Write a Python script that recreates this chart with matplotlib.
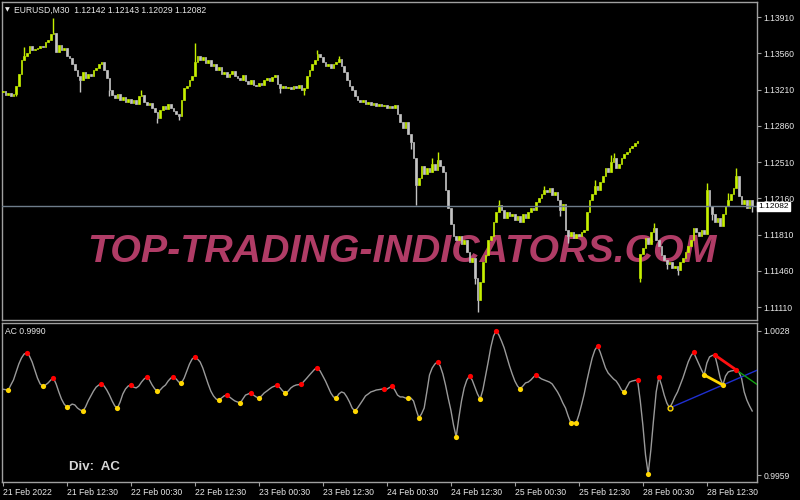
import numpy as np
import matplotlib
matplotlib.use("Agg")
import matplotlib.pyplot as plt
from matplotlib.transforms import blended_transform_factory

# ---------------- data ----------------
symbol_header = "EURUSD,M30  1.12142 1.12143 1.12029 1.12082"
indicator_name = "AC 0.9990"
div_label = "Div:  AC"
watermark = "TOP-TRADING-INDICATORS.COM"

# M30 closes (bar 0 = 21 Feb 00:30 ... bar 281 = 28 Feb 21:00)
closes = [
    1.13195, 1.13157, 1.13176, 1.13147, 1.13166, 1.13244, 1.13359, 1.13495, 1.13533, 1.13562,
    1.13630, 1.13591, 1.13601, 1.13611, 1.13630, 1.13620, 1.13669, 1.13688, 1.13745, 1.13755,
    1.13572, 1.13640, 1.13591, 1.13611, 1.13533, 1.13514, 1.13456, 1.13398, 1.13340, 1.13302,
    1.13379, 1.13321, 1.13359, 1.13340, 1.13398, 1.13418, 1.13456, 1.13476, 1.13398, 1.13321,
    1.13205, 1.13157, 1.13128, 1.13166, 1.13109, 1.13138, 1.13090, 1.13118, 1.13080, 1.13109,
    1.13070, 1.13147, 1.13157, 1.13090, 1.13061, 1.13080, 1.13032, 1.12993, 1.12935, 1.13012,
    1.13051, 1.13022, 1.13070, 1.13032, 1.13003, 1.12974, 1.12955, 1.13109, 1.13224, 1.13244,
    1.13302, 1.13340, 1.13476, 1.13533, 1.13495, 1.13524, 1.13466, 1.13495, 1.13437, 1.13456,
    1.13398, 1.13427, 1.13359, 1.13379, 1.13330, 1.13359, 1.13388, 1.13340, 1.13321, 1.13302,
    1.13350, 1.13292, 1.13263, 1.13302, 1.13253, 1.13244, 1.13273, 1.13253, 1.13302, 1.13321,
    1.13292, 1.13330, 1.13350, 1.13263, 1.13224, 1.13244, 1.13224, 1.13234, 1.13215, 1.13244,
    1.13224, 1.13253, 1.13205, 1.13224, 1.13340, 1.13398, 1.13456, 1.13495, 1.13552, 1.13524,
    1.13476, 1.13437, 1.13456, 1.13418, 1.13456, 1.13476, 1.13504, 1.13437, 1.13379, 1.13302,
    1.13244, 1.13205, 1.13147, 1.13109, 1.13090, 1.13109, 1.13070, 1.13090, 1.13061, 1.13080,
    1.13051, 1.13070, 1.13051, 1.13061, 1.13032, 1.13051, 1.13032, 1.13061, 1.12974, 1.12897,
    1.12839, 1.12897, 1.12780, 1.12703, 1.12549, 1.12288, 1.12356, 1.12472, 1.12394, 1.12452,
    1.12413, 1.12490, 1.12433, 1.12529, 1.12472, 1.12413, 1.12240, 1.12066, 1.11911, 1.11796,
    1.11757, 1.11796, 1.11718, 1.11757, 1.11641, 1.11545, 1.11583, 1.11390, 1.11178, 1.11352,
    1.11545, 1.11612, 1.11757, 1.11796, 1.11931, 1.12027, 1.12095, 1.12047, 1.11969, 1.12027,
    1.11989, 1.12008, 1.11950, 1.11989, 1.11931, 1.12008, 1.11969, 1.12027, 1.12066, 1.12047,
    1.12124, 1.12162, 1.12201, 1.12240, 1.12220, 1.12259, 1.12191, 1.12220, 1.12143, 1.12047,
    1.12104, 1.11854, 1.11796, 1.11834, 1.11776, 1.11815, 1.11796, 1.11834, 1.11854, 1.12027,
    1.12143, 1.12201, 1.12278, 1.12240, 1.12317, 1.12375, 1.12452, 1.12413, 1.12510, 1.12549,
    1.12452, 1.12490, 1.12549, 1.12587, 1.12607, 1.12645, 1.12664, 1.12693, 1.12713, 1.11621,
    1.11680, 1.11776, 1.11718, 1.11834, 1.11873, 1.11757, 1.11699, 1.11612, 1.11564, 1.11525,
    1.11545, 1.11487, 1.11506, 1.11467, 1.11545, 1.11583, 1.11641, 1.11699, 1.11757, 1.11873,
    1.11834, 1.11796, 1.11854, 1.11815, 1.12240, 1.12085, 1.12008, 1.11931, 1.11969, 1.11892,
    1.12008, 1.12085, 1.12143, 1.12201, 1.12259, 1.12375, 1.12182, 1.12104, 1.12143, 1.12066,
    1.12142, 1.12082,
]
# opens that differ from the previous close (first bar, Monday gap)
session_opens = {0: 1.13186, 239: 1.11390}
# visible wicks
wick_highs = {19: 1.13900, 72: 1.13659, 118: 1.13591, 126: 1.13533, 163: 1.12607,
              203: 1.12278, 222: 1.12336, 244: 1.11921, 264: 1.12307, 275: 1.12452,
              281: 1.12143, 8: 1.13620, 52: 1.13205, 161: 1.12549, 186: 1.12143,
              228: 1.12580, 229: 1.12600, 272: 1.12210}
wick_lows = {29: 1.13186, 58: 1.12887, 66: 1.12916, 113: 1.13157, 155: 1.12095,
             178: 1.11062, 212: 1.11728, 239: 1.11352, 253: 1.11418, 281: 1.12029,
             5: 1.13150, 40: 1.13150, 104: 1.13180, 153: 1.12640, 177: 1.11330,
             209: 1.11990, 249: 1.11480, 266: 1.11950}
last_price = 1.12082

price_ticks = [1.13910, 1.13560, 1.13210, 1.12860, 1.12510, 1.12160, 1.11810, 1.11460, 1.11110]

# AC indicator values per bar
ac_values = [
    1.00000, 0.99998, 0.99994, 1.00020, 1.00044, 1.00082, 1.00120, 1.00149, 1.00168, 1.00173,
    1.00158, 1.00130, 1.00092, 1.00053, 1.00025, 1.00015, 1.00020, 1.00030, 1.00044, 1.00053,
    1.00025, 0.99987, 0.99953, 0.99929, 0.99915, 0.99920, 0.99929, 0.99925, 0.99910, 0.99901,
    0.99896, 0.99915, 0.99944, 0.99968, 0.99991, 1.00010, 1.00020, 1.00025, 1.00015, 0.99996,
    0.99972, 0.99944, 0.99920, 0.99910, 0.99939, 0.99977, 1.00001, 1.00015, 1.00020, 1.00010,
    1.00006, 1.00015, 1.00034, 1.00049, 1.00058, 1.00044, 1.00020, 1.00001, 0.99991, 0.99996,
    1.00010, 1.00020, 1.00039, 1.00053, 1.00058, 1.00049, 1.00034, 1.00030, 1.00053, 1.00087,
    1.00120, 1.00144, 1.00154, 1.00144, 1.00130, 1.00101, 1.00063, 1.00025, 0.99991, 0.99968,
    0.99953, 0.99948, 0.99958, 0.99968, 0.99972, 0.99963, 0.99953, 0.99944, 0.99939, 0.99934,
    0.99953, 0.99972, 0.99977, 0.99984, 0.99972, 0.99963, 0.99958, 0.99968, 0.99982, 0.99991,
    1.00001, 1.00010, 1.00015, 1.00020, 1.00006, 0.99991, 0.99982, 0.99991, 1.00006, 1.00015,
    1.00020, 1.00022, 1.00025, 1.00039, 1.00053, 1.00068, 1.00082, 1.00096, 1.00101, 1.00087,
    1.00063, 1.00039, 1.00010, 0.99982, 0.99963, 0.99958, 0.99977, 0.99987, 0.99982, 0.99963,
    0.99939, 0.99910, 0.99896, 0.99910, 0.99929, 0.99948, 0.99968, 0.99977, 0.99987, 0.99991,
    0.99996, 0.99998, 1.00000, 1.00003, 1.00000, 1.00008, 1.00015, 0.99996, 0.99972, 0.99963,
    0.99963, 0.99958, 0.99956, 0.99958, 0.99944, 0.99901, 0.99863, 0.99882, 0.99910, 0.99987,
    1.00068, 1.00101, 1.00120, 1.00130, 1.00111, 1.00073, 1.00020, 0.99958, 0.99901, 0.99829,
    0.99772, 0.99863, 0.99944, 1.00006, 1.00044, 1.00063, 1.00044, 1.00010, 0.99977, 0.99953,
    0.99996, 1.00063, 1.00130, 1.00201, 1.00254, 1.00278, 1.00259, 1.00230, 1.00197, 1.00154,
    1.00111, 1.00073, 1.00039, 1.00015, 1.00001, 1.00015, 1.00030, 1.00034, 1.00044, 1.00058,
    1.00068, 1.00058, 1.00049, 1.00044, 1.00039, 1.00034, 1.00025, 1.00006, 0.99987, 0.99963,
    0.99934, 0.99910, 0.99872, 0.99839, 0.99842, 0.99839, 0.99877, 0.99925, 0.99977, 1.00039,
    1.00096, 1.00149, 1.00187, 1.00206, 1.00177, 1.00139, 1.00101, 1.00077, 1.00063, 1.00049,
    1.00039, 1.00020, 0.99996, 0.99987, 1.00010, 1.00034, 1.00039, 1.00042, 1.00044, 0.99948,
    0.99829, 0.99686, 0.99596, 0.99710, 0.99853, 0.99987, 1.00058, 1.00020, 0.99972, 0.99934,
    0.99910, 0.99934, 0.99963, 0.99987, 1.00020, 1.00053, 1.00092, 1.00130, 1.00158, 1.00177,
    1.00149, 1.00120, 1.00092, 1.00068, 1.00125, 1.00154, 1.00161, 1.00163, 1.00111, 1.00053,
    1.00020, 1.00063, 1.00082, 1.00087, 1.00089, 1.00092, 1.00082, 1.00053, 0.99987, 0.99948,
    0.99920, 0.99896,
]
peak_idx = [9, 19, 37, 48, 54, 64, 72, 84, 93, 103, 112, 118, 143, 146, 163, 175, 185,
            200, 223, 238, 246, 259, 267, 275]
trough_idx = [2, 15, 24, 30, 43, 58, 67, 81, 89, 96, 106, 125, 132, 152, 156, 170, 179,
              194, 213, 215, 233, 242, 263, 270]
open_trough_idx = [250]
# divergence lines (pairs of swing indices)
div_bull_troughs = (250, 270)     # blue, extended to the right
div_small_troughs = (263, 270)    # yellow
div_bear_peaks = (267, 275)       # red, green extension to the right
ac_ticks = [1.0028, 0.9959]

time_tick_idx = [0, 24, 48, 72, 96, 120, 144, 168, 192, 216, 240, 264]
time_tick_labels = ["21 Feb 2022", "21 Feb 12:30", "22 Feb 00:30", "22 Feb 12:30",
                    "23 Feb 00:30", "23 Feb 12:30", "24 Feb 00:30", "24 Feb 12:30",
                    "25 Feb 00:30", "25 Feb 12:30", "28 Feb 00:30", "28 Feb 12:30"]

# ---------------- style ----------------
plt.rcParams['font.family'] = ['Liberation Sans', 'DejaVu Sans']
BG = '#000000'
FRAME = '#a0a0a0'
TXT = '#e8e8e8'
BULL = '#c6f000'
BEAR = '#c4c4c4'
DOJI = '#00a000'
FS = 6.2

fig = plt.figure(figsize=(8, 5), dpi=100, facecolor=BG)
W, H = 800.0, 500.0
ax1 = fig.add_axes([2 / W, 1 - 320 / H, 755 / W, 318 / H], facecolor=BG)
ax2 = fig.add_axes([2 / W, 1 - 482 / H, 755 / W, 159 / H], facecolor=BG, sharex=ax1)

n = len(closes)
xs = np.arange(n)
c = np.array(closes)
o = np.empty(n)
o[1:] = c[:-1]
for k, v in session_opens.items():
    o[k] = v

cols = [BULL if c[i] > o[i] else (BEAR if c[i] < o[i] else DOJI) for i in range(n)]

# wicks
for k, h in wick_highs.items():
    ax1.vlines(k, max(o[k], c[k]), h, color=cols[k], lw=1.0, zorder=3)
for k, l in wick_lows.items():
    ax1.vlines(k, l, min(o[k], c[k]), color=cols[k], lw=1.0, zorder=3)
# bodies
ax1.bar(xs, c - o, bottom=o, width=0.62, color=cols, edgecolor=cols,
        linewidth=0.5, zorder=4)

ax1.axhline(last_price, color='#6e7c8a', lw=1.0, zorder=5)

ax1.set_xlim(-0.3, 282.8)
ax1.set_ylim(1.109845, 1.140550)

# right price axis
ax1.yaxis.tick_right()
ax1.set_yticks(price_ticks)
ax1.set_yticklabels([f"{p:.5f}" for p in price_ticks])
ax1.tick_params(axis='y', colors=FRAME, labelcolor=TXT, labelsize=FS,
                length=3, width=0.8, pad=1.5, direction='out')
ax1.tick_params(axis='x', bottom=False, labelbottom=False)
for sp in ax1.spines.values():
    sp.set_color(FRAME)
    sp.set_linewidth(1.0)

# current price box on the right scale (drawn on top of the scale labels)
trans = blended_transform_factory(ax1.transAxes, ax1.transData)
price_box = fig.text(0, 0, "1.12082", ha='left', va='center',
                     fontsize=6.0, color='black', zorder=10,
                     bbox=dict(boxstyle='square,pad=0.15', fc='white', ec='white'))
price_box.set_transform(trans)
price_box.set_position((1.002, last_price))

# watermark
wm = ax1.text(402 / W, 1 - 252 / H, watermark, transform=fig.transFigure,
              ha='center', va='center', color='#b03c66', fontsize=30,
              fontweight='bold', style='italic',
              family=['Liberation Sans Narrow', 'Liberation Sans', 'DejaVu Sans'],
              zorder=1, clip_on=False)
r = fig.canvas.get_renderer()
bb = wm.get_window_extent(renderer=r)
wm.set_fontsize(30 * 628.0 / bb.width)

# header text
fig.text(5 / W, 1 - 10 / H, "\u25BC", color=TXT, fontsize=4.5, va='center', ha='left',
         family=['DejaVu Sans'])
fig.text(14 / W, 1 - 10 / H, symbol_header, color=TXT, fontsize=FS, va='center', ha='left')

# ---------------- indicator panel ----------------
ac = np.array(ac_values)
ax2.plot(xs, ac, color='#9a9a9a', lw=1.0, zorder=2)

xr = ax1.get_xlim()[1]
# blue bullish divergence line
b0, b1 = div_bull_troughs
sl = (ac[b1] - ac[b0]) / (b1 - b0)
ax2.plot([b0, xr], [ac[b0], ac[b0] + sl * (xr - b0)], color='#1f2fd0', lw=1.0, zorder=3)
# yellow trough line
y0i, y1i = div_small_troughs
ax2.plot([y0i, y1i], [ac[y0i], ac[y1i]], color='#ffd700', lw=2.0, zorder=3)
# red peak line + green extension
p0, p1 = div_bear_peaks
slp = (ac[p1] - ac[p0]) / (p1 - p0)
ax2.plot([p0, p1], [ac[p0], ac[p1]], color='#ff1010', lw=2.0, zorder=3)
ax2.plot([p1, xr], [ac[p1], ac[p1] + slp * (xr - p1)], color='#10a010', lw=1.0, zorder=3)

ax2.scatter(peak_idx, ac[peak_idx], s=14, color='#ff0000', zorder=5, linewidths=0)
ax2.scatter(trough_idx, ac[trough_idx], s=14, color='#ffd700', zorder=5, linewidths=0)
ax2.scatter(open_trough_idx, ac[open_trough_idx], s=12, facecolor='#202020',
            edgecolor='#ffd700', linewidths=1.0, zorder=5)

ax2.set_ylim(0.99557, 1.00316)
ax2.yaxis.tick_right()
ax2.set_yticks(ac_ticks)
ax2.set_yticklabels([f"{v:.4f}" for v in ac_ticks])
ax2.tick_params(axis='y', colors=FRAME, labelcolor=TXT, labelsize=FS,
                length=3, width=0.8, pad=1.5, direction='out')
ax2.set_xticks(time_tick_idx)
ax2.set_xticklabels(time_tick_labels)
ax2.tick_params(axis='x', colors=FRAME, labelcolor=TXT, labelsize=FS,
                length=3, width=0.8, pad=1.5, direction='out')
for lab in ax2.get_xticklabels():
    lab.set_horizontalalignment('left')
for sp in ax2.spines.values():
    sp.set_color(FRAME)
    sp.set_linewidth(1.0)

fig.text(5 / W, 1 - 331 / H, indicator_name, color=TXT, fontsize=FS, va='center', ha='left')
fig.text(69 / W, 1 - 467 / H, div_label, color='#d8d8d8', fontsize=9.5,
         fontweight='bold', va='center', ha='left')

fig.savefig("out.png", dpi=100, facecolor=BG)
